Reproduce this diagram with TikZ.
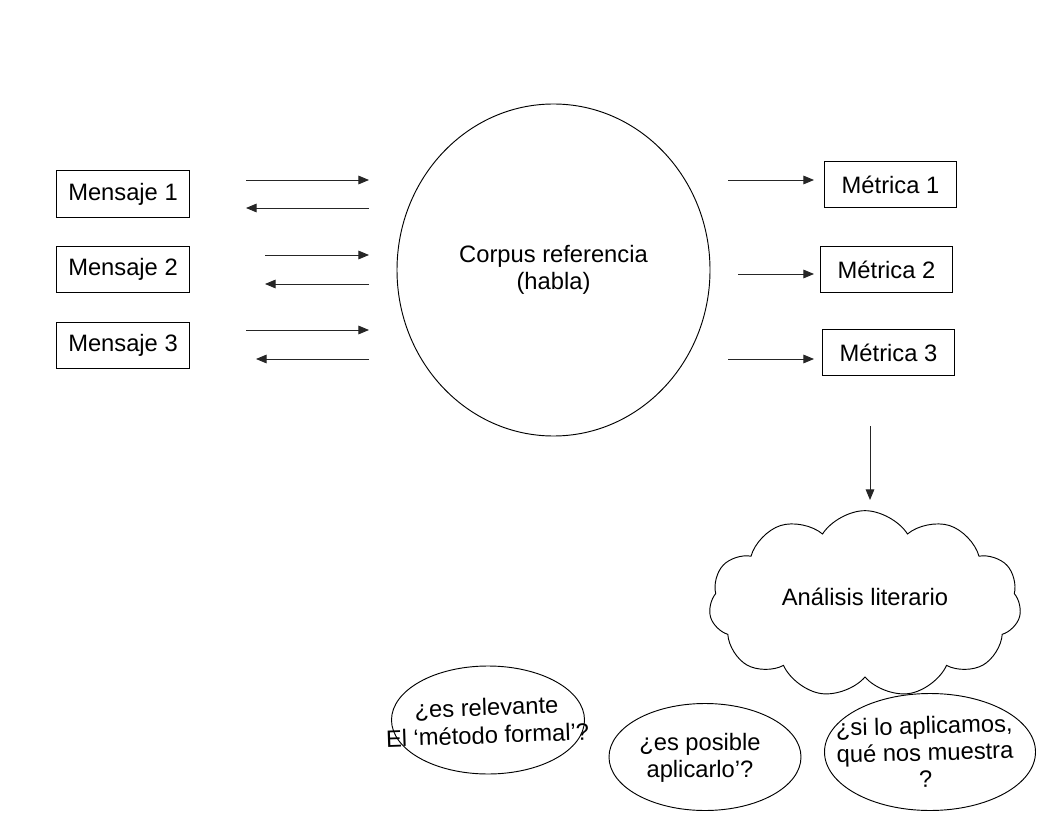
\documentclass[tikz,border=0pt]{standalone}
\usepackage{fontspec}
\setmainfont{Liberation Sans}
\usepackage{tikz}
\usetikzlibrary{arrows.meta, shapes.geometric, shapes.symbols}

\begin{document}
\begin{tikzpicture}[x=0.75pt, y=-0.75pt, line width=.7pt,
        txt/.style={font=\fontsize{17.8}{20}\selectfont, align=center},
        kasten/.style={txt, draw, inner sep=0pt, minimum width=99.5pt, minimum height=35pt},
        blase/.style={txt, draw, ellipse, inner sep=0pt},
        pfeil/.style={-{Triangle[length=8pt, width=6.5pt]}, color=black!85}]
            \useasboundingbox (0,0) rectangle (1056,816);
            % Kaesten.
            \node[kasten] (m1) at (123,194) {Mensaje 1};
            \node[kasten] (m2) at (123,269.5) {Mensaje 2};
            \node[kasten] (m3) at (123,345.5) {Mensaje 3};
            \node[kasten] (k1) at (890.5,184.5) {Métrica 1};
            \node[kasten] (k2) at (886.5,269.5) {Métrica 2};
            \node[kasten] (k3) at (888.5,352.5) {Métrica 3};
            
            \node[blase, minimum width=234.75pt, minimum height=249pt] (corpus) at (553.5,270) {Corpus referencia\\(habla)};
            \node[txt, draw, cloud, cloud puffs=11, cloud puff arc=115, cloud ignores aspect,
                minimum width=234pt, minimum height=140pt, inner sep=0pt] (analisis) at (865,604) {\raisebox{11pt}{Análisis literario}};
            
            % Fragen.
            \node[draw, ellipse, minimum width=144.75pt, minimum height=81pt] (f1) at (488,720) {};
            \node[txt, rotate=2, font=\fontsize{17.8}{21}\selectfont] (t1) at (487,721) {¿es relevante\\El ‘método formal’?};
            \node[draw, ellipse, minimum width=144pt, minimum height=80.25pt] (f2) at (705,757) {};
            \node[txt] (t2) at (700,758) {¿es posible\\aplicarlo’?};
            \node[draw, ellipse, minimum width=158.25pt, minimum height=87.75pt] (f3) at (930,752) {};
            \node[txt, rotate=1.5] (t3) at (925,752) {¿si lo aplicamos,\\qué nos muestra\\?};
            
            % Pfeile.
            \foreach \n/\xa/\xb/\y in {a/246/369/180, b/265/369/255, c/246/369/330}
            {
                \coordinate (\n0) at (\xa,\y);
                \coordinate (\n1) at (\xb,\y);
                \draw[pfeil] (\n0) -- (\n1);
            }
            \foreach \n/\xa/\xb/\y in {d/369/246/208, e/369/265/284, f/369/256/359}
            {
                \coordinate (\n0) at (\xa,\y);
                \coordinate (\n1) at (\xb,\y);
                \draw[pfeil] (\n0) -- (\n1);
            }
            \foreach \n/\xa/\y in {g/728/180, h/738/274, i/728/359}
            {
                \coordinate (\n0) at (\xa,\y);
                \coordinate (\n1) at (814,\y);
                \draw[pfeil] (\n0) -- (\n1);
            }
            \coordinate (j0) at (870,426);
            \coordinate (j1) at (870,500);
            \draw[pfeil] (j0) -- (j1);
        \end{tikzpicture}
\end{document}
